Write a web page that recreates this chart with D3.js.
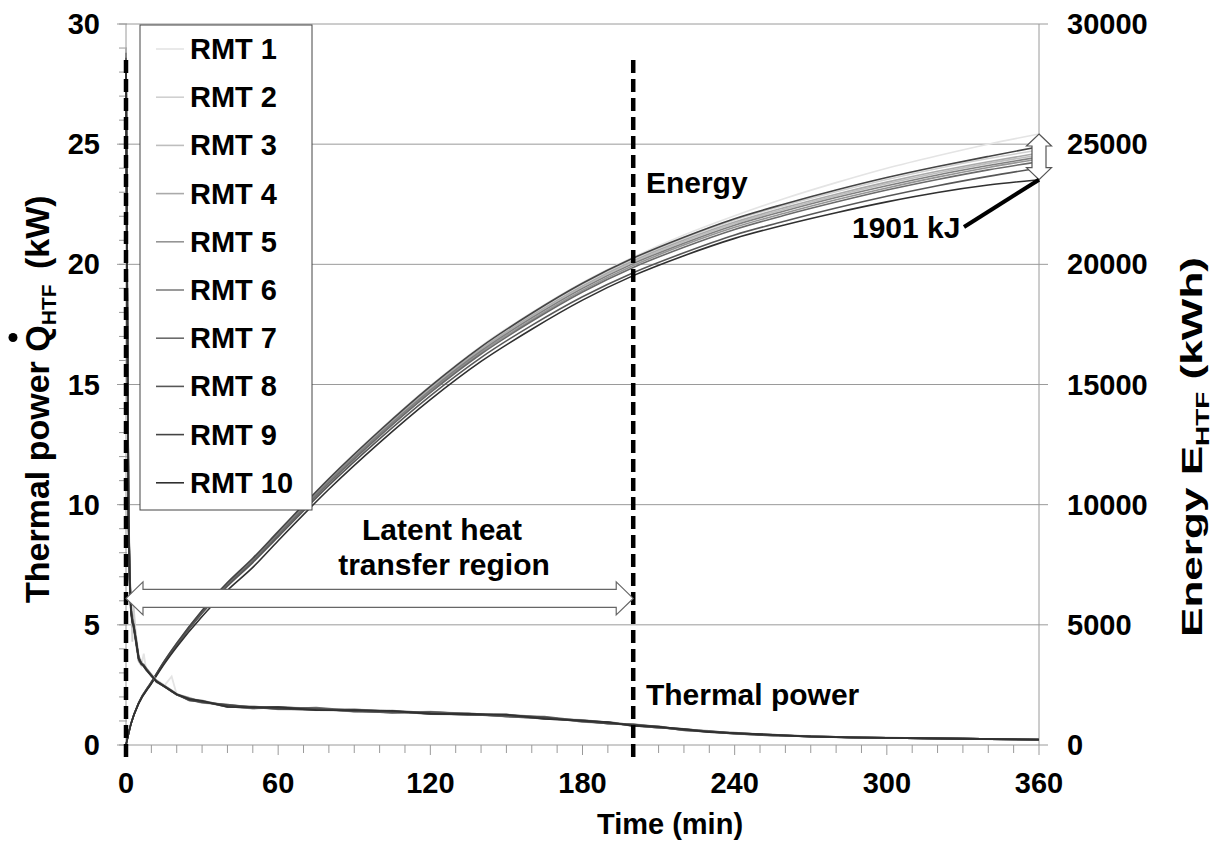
<!DOCTYPE html>
<html>
<head>
<meta charset="utf-8">
<script src="https://cdn.jsdelivr.net/npm/d3@7"></script>
<style>
    body { margin: 0; background: #fff; }
    text { font-family: Arial, "Liberation Sans", sans-serif; font-weight: bold; fill: #000; }
</style>
</head>
<body>
<div id="chart"></div>
<script>
"use strict"

// -------------------------------------
// Data
// -------------------------------------

var seriesNames = ['RMT 1', 'RMT 2', 'RMT 3', 'RMT 4', 'RMT 5', 'RMT 6', 'RMT 7', 'RMT 8', 'RMT 9', 'RMT 10']

// energy E_HTF per tube (right axis)
var energyTime = [0, 2, 5, 10, 15, 20, 30, 40, 50, 60, 80, 100, 120, 140, 160, 180, 200, 220, 240, 260, 280, 300, 320, 340, 360]
var energyRMT1 = [0, 910, 1770, 2630, 3490, 4250, 5610, 6770, 7790, 8900, 11100, 13100, 14950, 16600, 18000, 19250, 20300, 21220, 22020, 22750, 23400, 24000, 24520, 25000, 25423]
var energyRMT2 = [0, 905, 1760, 2615, 3470, 4225, 5585, 6745, 7755, 8865, 11060, 13050, 14895, 16535, 17930, 19175, 20220, 21090, 21850, 22460, 23020, 23530, 23990, 24400, 24757]
var energyRMT3 = [0, 895, 1750, 2605, 3455, 4210, 5560, 6710, 7715, 8820, 11000, 12980, 14810, 16440, 17820, 19055, 20090, 20950, 21700, 22300, 22850, 23350, 23800, 24200, 24550]
var energyRMT4 = [0, 900, 1755, 2610, 3460, 4215, 5570, 6720, 7730, 8840, 11025, 13010, 14845, 16480, 17865, 19105, 20150, 21010, 21760, 22370, 22920, 23420, 23870, 24270, 24633]
var energyRMT5 = [0, 895, 1745, 2590, 3435, 4185, 5530, 6675, 7670, 8765, 10935, 12900, 14715, 16330, 17695, 18920, 19950, 20800, 21540, 22140, 22690, 23180, 23630, 24030, 24383]
var energyRMT6 = [0, 900, 1745, 2595, 3445, 4195, 5545, 6695, 7695, 8795, 10970, 12945, 14770, 16395, 17770, 19000, 20030, 20880, 21630, 22230, 22780, 23270, 23720, 24110, 24466]
var energyRMT7 = [0, 890, 1740, 2585, 3430, 4170, 5510, 6650, 7640, 8730, 10890, 12850, 14660, 16270, 17630, 18850, 19870, 20710, 21450, 22050, 22590, 23090, 23530, 23930, 24272]
var energyRMT8 = [0, 890, 1735, 2575, 3410, 4150, 5480, 6610, 7590, 8660, 10800, 12740, 14530, 16120, 17460, 18650, 19650, 20480, 21220, 21800, 22340, 22830, 23270, 23660, 24008]
var energyRMT9 = [0, 900, 1760, 2620, 3480, 4240, 5600, 6760, 7770, 8880, 11078, 13075, 14922, 16569, 17965, 19212, 20260, 21130, 21900, 22520, 23090, 23610, 24070, 24490, 24890]
var energyRMT10 = [0, 890, 1720, 2550, 3360, 4080, 5350, 6440, 7390, 8500, 10640, 12580, 14370, 15960, 17300, 18510, 19530, 20360, 21080, 21650, 22150, 22600, 22990, 23300, 23522]

// thermal power Q_HTF per tube (left axis)
var powerTime = [0, 0.5, 1, 1.5, 2, 2.5, 3, 4, 5, 6, 7, 8, 10, 12, 15, 18, 20, 25, 30, 40, 50, 60, 75, 90, 105, 120, 135, 150, 165, 180, 190, 200, 210, 220, 230, 240, 255, 270, 285, 300, 330, 360]
var powerRMT1 = [27.0, 17.0, 9.0, 6.5, 5.4, 6.2, 5.2, 4.1, 3.5, 3.3, 3.8, 3.1, 2.9, 2.6, 2.45, 2.85, 2.1, 1.95, 1.76, 1.69, 1.53, 1.58, 1.44, 1.47, 1.34, 1.39, 1.25, 1.26, 1.09, 1.03, 0.89, 0.87, 0.71, 0.67, 0.54, 0.51, 0.39, 0.38, 0.31, 0.31, 0.26, 0.22]
var powerRMT2 = [28.0, 18.5, 9.8, 7.0, 5.9, 4.3, 5.8, 4.4, 3.7, 3.5, 3.3, 3.2, 2.95, 2.7, 2.5, 2.28, 2.14, 1.86, 1.85, 1.58, 1.62, 1.49, 1.54, 1.38, 1.42, 1.30, 1.33, 1.19, 1.17, 0.96, 0.95, 0.80, 0.78, 0.61, 0.59, 0.46, 0.43, 0.34, 0.33, 0.30, 0.26, 0.22]
var powerRMT3 = [28.5, 18.0, 9.4, 6.6, 5.5, 5.3, 4.8, 4.3, 3.6, 3.45, 3.25, 3.1, 2.88, 2.66, 2.44, 2.22, 2.08, 1.92, 1.86, 1.61, 1.51, 1.57, 1.52, 1.39, 1.36, 1.39, 1.30, 1.18, 1.11, 1.04, 0.94, 0.80, 0.72, 0.67, 0.57, 0.46, 0.40, 0.38, 0.32, 0.30, 0.26, 0.21]
var powerRMT4 = [29.0, 19.0, 10.0, 7.1, 5.8, 5.0, 5.1, 4.5, 3.7, 3.4, 3.35, 3.2, 2.92, 2.62, 2.46, 2.26, 2.1, 1.88, 1.75, 1.67, 1.59, 1.48, 1.47, 1.48, 1.41, 1.29, 1.26, 1.27, 1.16, 0.96, 0.90, 0.87, 0.76, 0.61, 0.55, 0.51, 0.42, 0.34, 0.32, 0.31, 0.26, 0.22]
var powerRMT5 = [28.2, 17.5, 9.2, 6.7, 5.6, 5.4, 4.9, 4.2, 3.5, 3.35, 3.28, 3.12, 2.87, 2.64, 2.43, 2.24, 2.12, 1.96, 1.80, 1.59, 1.60, 1.53, 1.45, 1.48, 1.38, 1.30, 1.32, 1.22, 1.09, 1.03, 0.92, 0.80, 0.77, 0.64, 0.54, 0.50, 0.41, 0.35, 0.33, 0.30, 0.26, 0.22]
var powerRMT6 = [28.8, 18.2, 9.6, 6.9, 5.7, 5.1, 5.0, 4.3, 3.65, 3.42, 3.3, 3.18, 2.9, 2.67, 2.47, 2.27, 2.11, 1.85, 1.83, 1.63, 1.52, 1.59, 1.49, 1.40, 1.43, 1.34, 1.24, 1.26, 1.13, 0.97, 0.96, 0.83, 0.71, 0.67, 0.56, 0.46, 0.43, 0.36, 0.31, 0.30, 0.26, 0.22]
var powerRMT7 = [28.4, 18.0, 9.5, 6.8, 5.5, 5.2, 4.9, 4.35, 3.6, 3.38, 3.3, 3.15, 2.91, 2.65, 2.45, 2.25, 2.09, 1.90, 1.77, 1.68, 1.56, 1.50, 1.55, 1.43, 1.34, 1.38, 1.28, 1.19, 1.18, 1.00, 0.89, 0.86, 0.74, 0.62, 0.59, 0.48, 0.39, 0.38, 0.32, 0.30, 0.26, 0.22]
var powerRMT8 = [28.6, 18.3, 9.7, 6.9, 5.6, 5.2, 5.0, 4.25, 3.62, 3.4, 3.32, 3.14, 2.89, 2.66, 2.46, 2.24, 2.1, 1.93, 1.82, 1.60, 1.54, 1.56, 1.51, 1.40, 1.36, 1.37, 1.30, 1.19, 1.11, 1.02, 0.94, 0.81, 0.72, 0.66, 0.57, 0.47, 0.40, 0.37, 0.32, 0.30, 0.26, 0.22]
var powerRMT9 = [28.5, 18.1, 9.5, 6.8, 5.6, 5.2, 5.0, 4.3, 3.6, 3.4, 3.3, 3.15, 2.9, 2.65, 2.45, 2.25, 2.1, 1.87, 1.78, 1.66, 1.58, 1.50, 1.47, 1.46, 1.40, 1.31, 1.26, 1.25, 1.15, 0.98, 0.90, 0.85, 0.76, 0.62, 0.55, 0.49, 0.42, 0.35, 0.32, 0.30, 0.26, 0.22]
var powerRMT10 = [28.3, 17.8, 9.4, 6.7, 5.5, 5.1, 4.95, 4.3, 3.58, 3.38, 3.28, 3.13, 2.88, 2.64, 2.44, 2.24, 2.11, 1.91, 1.84, 1.59, 1.57, 1.57, 1.45, 1.44, 1.42, 1.30, 1.29, 1.26, 1.09, 1.01, 0.95, 0.80, 0.75, 0.66, 0.54, 0.49, 0.42, 0.35, 0.32, 0.30, 0.26, 0.22]

var timeTicks = [0, 60, 120, 180, 240, 300, 360]
var powerTicks = [0, 5, 10, 15, 20, 25, 30]
var energyTicks = [0, 5000, 10000, 15000, 20000, 25000, 30000]
var regionStart = 0      // min
var regionEnd = 200      // min
var regionLevel = 6.1    // kW, height of the double arrow

var energySeries = [energyRMT1, energyRMT2, energyRMT3, energyRMT4, energyRMT5, energyRMT6, energyRMT7, energyRMT8, energyRMT9, energyRMT10]
var powerSeries = [powerRMT1, powerRMT2, powerRMT3, powerRMT4, powerRMT5, powerRMT6, powerRMT7, powerRMT8, powerRMT9, powerRMT10]
var colors = ['#e4e4e4', '#d0d0d0', '#bebebe', '#aaaaaa', '#959595', '#808080', '#6b6b6b', '#575757', '#444444', '#303030']

// -------------------------------------
// Layout
// -------------------------------------

var W = 1215, H = 846
var plotLeft = 126, plotRight = 1039, plotTop = 24, plotBottom = 745
var gridColor = '#9a9a9a'

var svg = d3.select('#chart').append('svg')
    .attr('width', W)
    .attr('height', H)

var x = d3.scaleLinear().domain([0, 360]).range([plotLeft, plotRight])
var yP = d3.scaleLinear().domain([0, 30]).range([plotBottom, plotTop])
var yE = d3.scaleLinear().domain([0, 30000]).range([plotBottom, plotTop])

// gridlines
svg.append('g').selectAll('line')
    .data(powerTicks)
    .enter().append('line')
    .attr('x1', plotLeft - 9).attr('x2', plotRight + 9)
    .attr('y1', d => yP(d)).attr('y2', d => yP(d))
    .attr('stroke', gridColor).attr('stroke-width', 1)

// left minor ticks every 1 kW
svg.append('g').selectAll('line')
    .data(d3.range(0, 31))
    .enter().append('line')
    .attr('x1', plotLeft - 7).attr('x2', plotLeft + 1)
    .attr('y1', d => yP(d)).attr('y2', d => yP(d))
    .attr('stroke', gridColor)

// bottom minor ticks every 10 min
svg.append('g').selectAll('line')
    .data(d3.range(0, 361, 10))
    .enter().append('line')
    .attr('x1', d => x(d)).attr('x2', d => x(d))
    .attr('y1', plotBottom).attr('y2', d => plotBottom + (d % 60 == 0 ? 10 : 8))
    .attr('stroke', gridColor)

// axis lines
svg.append('line').attr('x1', plotLeft).attr('x2', plotLeft).attr('y1', plotTop).attr('y2', plotBottom).attr('stroke', gridColor)
svg.append('line').attr('x1', plotRight).attr('x2', plotRight).attr('y1', plotTop).attr('y2', plotBottom).attr('stroke', gridColor)

// tick labels
svg.append('g').selectAll('text')
    .data(powerTicks)
    .enter().append('text')
    .attr('x', 100).attr('y', d => yP(d) + 10)
    .attr('text-anchor', 'end')
    .style('font-size', '29px')
    .text(d => d)

svg.append('g').selectAll('text')
    .data(energyTicks)
    .enter().append('text')
    .attr('x', 1067).attr('y', d => yE(d) + 10)
    .style('font-size', '29px')
    .text(d => d)

svg.append('g').selectAll('text')
    .data(timeTicks)
    .enter().append('text')
    .attr('x', d => x(d)).attr('y', 793)
    .attr('text-anchor', 'middle')
    .style('font-size', '29px')
    .text(d => d)

svg.append('text')
    .attr('x', 670).attr('y', 834)
    .attr('text-anchor', 'middle')
    .style('font-size', '29px')
    .text('Time (min)')

// -------------------------------------
// Axis titles (rotated, with subscript)
// -------------------------------------

// left: starts at the bottom, dot over the Q
var gL = svg.append('g').attr('transform', 'translate(49,603) rotate(-90)')
var tL = gL.append('text').style('font-size', '34px')
tL.append('tspan').text('Thermal power Q')
tL.append('tspan').attr('dy', 7).style('font-size', '21px').text('HTF')
tL.append('tspan').attr('dy', -7).attr('dx', 6).text(' (kW)')
var qExt = tL.node().getExtentOfChar(14)
gL.append('circle')
    .attr('cx', qExt.x + qExt.width / 2 + 1)
    .attr('cy', -36)
    .attr('r', 4.5)
    .attr('fill', '#000')

// right: stretched along its length as in the original
var gR = svg.append('g').attr('transform', 'translate(1202,447) rotate(-90)')
var tR = gR.append('text')
    .attr('text-anchor', 'middle')
    .attr('textLength', 380)
    .attr('lengthAdjust', 'spacingAndGlyphs')
    .style('font-size', '30px')
tR.append('tspan').text('Energy E')
tR.append('tspan').attr('dy', 7).style('font-size', '19px').text('HTF')
tR.append('tspan').attr('dy', -7).text(' (kWh)')

// -------------------------------------
// Curves
// -------------------------------------

var energyLine = d3.line()
    .x((d, i) => x(energyTime[i]))
    .y(d => yE(d))
    .curve(d3.curveMonotoneX)

var powerLine = d3.line()
    .x((d, i) => x(powerTime[i]))
    .y(d => yP(d))

svg.append('g').selectAll('path')
    .data(energySeries)
    .enter().append('path')
    .attr('fill', 'none')
    .attr('stroke', (d, i) => colors[i])
    .attr('stroke-width', 1.6)
    .attr('d', energyLine)

svg.append('g').selectAll('path')
    .data(powerSeries)
    .enter().append('path')
    .attr('fill', 'none')
    .attr('stroke', (d, i) => colors[i])
    .attr('stroke-width', 1.8)
    .attr('d', powerLine)

// -------------------------------------
// Region markers and annotations
// -------------------------------------

svg.append('g').selectAll('line')
    .data([regionStart, regionEnd])
    .enter().append('line')
    .attr('x1', d => x(d)).attr('x2', d => x(d))
    .attr('y1', yP(28.5)).attr('y2', plotBottom + 13)
    .attr('stroke', '#000')
    .attr('stroke-width', 4.5)
    .attr('stroke-dasharray', '13,6')

// horizontal double block arrow for the latent region
var ax0 = x(regionStart), ax1 = x(regionEnd), ay = yP(regionLevel)
var sh = 9, hh = 16.5, hl = 17
svg.append('path')
    .attr('d', `M${ax0},${ay} L${ax0 + hl},${ay - hh} L${ax0 + hl},${ay - sh} L${ax1 - hl},${ay - sh} L${ax1 - hl},${ay - hh} L${ax1},${ay} L${ax1 - hl},${ay + hh} L${ax1 - hl},${ay + sh} L${ax0 + hl},${ay + sh} L${ax0 + hl},${ay + hh} Z`)
    .attr('fill', '#fff')
    .attr('stroke', '#666')
    .attr('stroke-width', 1.2)

svg.append('text').attr('x', 442).attr('y', 540).attr('text-anchor', 'middle').style('font-size', '30px').text('Latent heat')
svg.append('text').attr('x', 444).attr('y', 575).attr('text-anchor', 'middle').style('font-size', '30px').text('transfer region')

svg.append('text').attr('x', x(205)).attr('y', 193).style('font-size', '30px').text('Energy')
svg.append('text').attr('x', x(205)).attr('y', 705).style('font-size', '30px').text('Thermal power')

// vertical double arrow for the spread of final energies
var ends = energySeries.map(s => s[s.length - 1])
var vx = x(360), vy0 = yE(d3.max(ends)), vy1 = yE(d3.min(ends))
var vs = 7, vh = 12.5, vl = 12
svg.append('path')
    .attr('d', `M${vx},${vy0} L${vx + vh},${vy0 + vl} L${vx + vs},${vy0 + vl} L${vx + vs},${vy1 - vl} L${vx + vh},${vy1 - vl} L${vx},${vy1} L${vx - vh},${vy1 - vl} L${vx - vs},${vy1 - vl} L${vx - vs},${vy0 + vl} L${vx - vh},${vy0 + vl} Z`)
    .attr('fill', '#fff')
    .attr('stroke', '#555')
    .attr('stroke-width', 1.2)

svg.append('line')
    .attr('x1', 964).attr('y1', 227)
    .attr('x2', vx).attr('y2', vy1)
    .attr('stroke', '#000').attr('stroke-width', 4)

svg.append('text').attr('x', 852).attr('y', 238).style('font-size', '30px')
    .text(Math.round(d3.max(ends) - d3.min(ends)) + ' kJ')

// -------------------------------------
// Legend
// -------------------------------------

var legend = svg.append('g')
legend.append('rect')
    .attr('x', 140).attr('y', 25).attr('width', 172).attr('height', 485)
    .attr('fill', '#fff').attr('stroke', '#444').attr('stroke-width', 1)

var rows = legend.selectAll('.row')
    .data(seriesNames)
    .enter().append('g')
    .attr('class', 'row')
    .attr('transform', (d, i) => `translate(0,${49 + i * 48.2})`)

rows.append('line')
    .attr('x1', 156).attr('x2', 184)
    .attr('stroke', (d, i) => colors[i])
    .attr('stroke-width', 1.6)

rows.append('text')
    .attr('x', 190).attr('y', 10)
    .style('font-size', '29px')
    .text(d => d)
</script>
</body>
</html>
